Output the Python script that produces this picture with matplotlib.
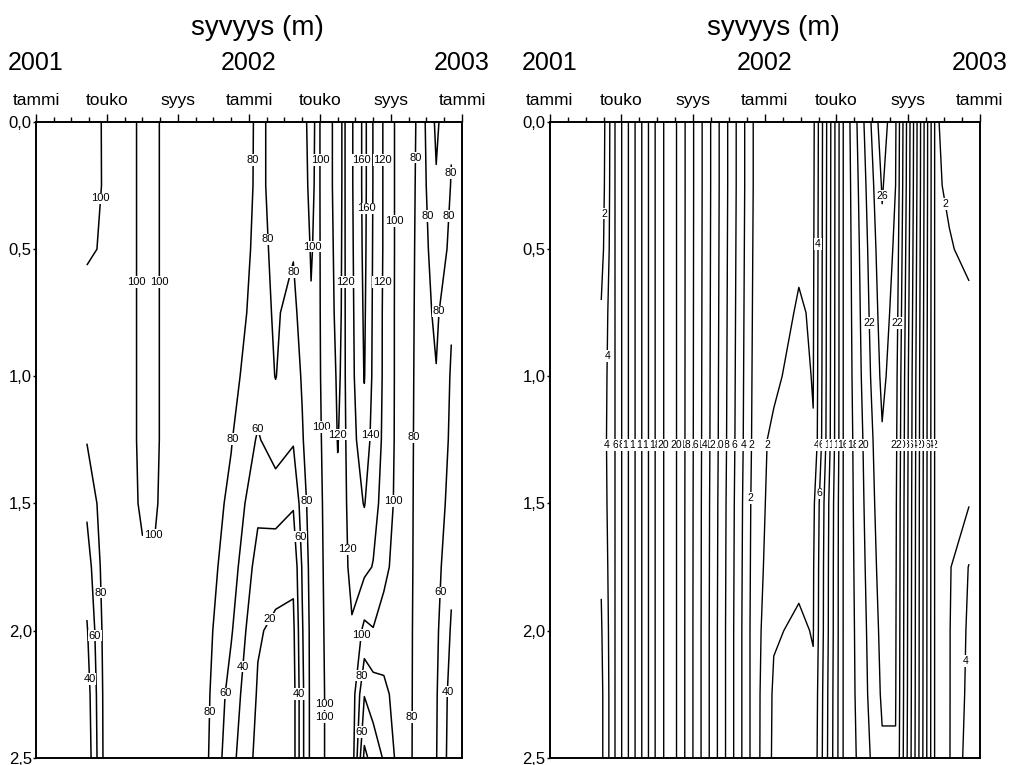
import numpy as np
import matplotlib
matplotlib.use("Agg")
import matplotlib.pyplot as plt
from matplotlib.ticker import FuncFormatter

plt.rcParams['font.family'] = ['Liberation Sans', 'DejaVu Sans']

# sampling depths (m), shared by both panels
depths = [0.0, 0.25, 0.5, 0.75, 1.0, 1.25, 1.5, 1.75, 2.0, 2.25, 2.5]

# left panel: sample times (months from Jan 2001), one depth profile per time
t_left = [2.87, 4.0, 5.5, 6.0, 6.7, 7.2, 9.5, 11.0, 12.5, 13.5, 14.5, 15.0,
          15.5, 15.9, 16.3, 17.0, 17.35, 17.8, 18.5, 19.0, 19.6, 20.4, 21.0,
          21.8, 22.55, 23.4]
prof_left = [
    [105, 104, 101, 97, 92, 81, 64, 50, 38, 30, 26],
    [98, 98.5, 99, 98, 97, 96, 96, 95, 94, 93.5, 93.5],
    [99, 99, 99, 99, 99, 99, 99, 99, 99, 98, 97],
    [102, 102, 102, 102, 102, 102, 101, 99, 98, 97, 96],
    [102, 102, 102, 102, 102, 102, 101, 99, 98, 97, 96],
    [98, 98, 98, 98, 98, 98, 98, 97, 96, 95, 95],
    [95, 95, 94, 94, 93, 92, 91, 90, 88, 87, 86],
    [90, 89, 88, 87, 85, 81, 76, 70, 62, 52, 46],
    [78, 78, 77, 75, 70, 58, 45, 32, 22, 18, 14],
    [82.5, 82.5, 82, 81.5, 80.5, 70, 48, 28, 16, 12, 12],
    [84, 83, 81, 76, 70, 62, 42, 24, 16, 12, 12],
    [96, 95, 92, 86, 82, 78, 70, 62, 58, 55, 55],
    [104, 103, 101, 99, 96, 94, 90, 88, 86, 86, 86],
    [96, 96, 96, 96, 96, 95, 94, 93, 92, 91, 91],
    [112, 112, 111, 110, 108, 106, 104, 103, 102, 101, 101],
    [126, 126, 125, 124, 122, 120.5, 118, 116, 114, 112, 112],
    [117, 117, 117, 117, 117, 116, 115, 114, 112, 112, 112],
    [138, 138, 137, 136, 135, 133, 130, 126, 118, 112, 112],
    [166, 166, 165, 163, 161, 152, 141, 125, 95, 61, 35],
    [139, 139, 138, 137, 136, 133, 128, 119, 99, 70, 48],
    [118, 118, 118, 117, 117, 116, 112, 105, 92, 75, 62],
    [94, 94, 94, 94, 94, 94, 94, 92, 90, 88, 86],
    [85, 85, 85, 85, 85, 85, 85, 85, 85, 85, 85],
    [75, 74, 73, 72, 71, 70, 69, 68, 66, 65, 64],
    [104, 98, 90, 84, 79, 76, 72, 68, 64, 62, 61],
    [82, 79, 76, 62, 58, 56, 52, 44, 38, 32, 30],
]
levels_left = [20, 40, 60, 80, 100, 120, 140, 160]

# right panel
t_right = [2.87, 3.6, 6.0, 6.7, 7.1, 11.4, 12.5, 13.9, 14.7, 16.4, 18.55,
           19.3, 21.5, 22.3, 23.4]
prof_right = [
    [0.6, 0.8, 1.2, 2.2, 2.6, 2.8, 2.6, 2.2, 1.8, 1.5, 1.5],
    [5.8] * 11,
    [18.65] * 11,
    [21.3] * 11,
    [19.9] * 11,
    [1.8, 1.8, 1.7, 1.6, 1.5, 1.4, 1.2, 1.1, 1.0, 1.0, 1.0],
    [1.0, 1.0, 1.0, 1.2, 1.7, 2.3, 2.6, 3.0, 3.8, 4.3, 4.4],
    [1.3, 1.4, 1.7, 2.2, 2.6, 2.9, 3.2, 3.6, 4.3, 4.6, 4.8],
    [1.5, 1.6, 1.7, 1.8, 1.9, 2.1, 3.5, 3.8, 3.9, 4.3, 4.5],
    [16.2] * 11,
    [27.2, 26.2, 25.5, 25.0, 24.5, 23.8, 23.4, 23.0, 22.6, 22.3, 21.7],
    [24.2, 24.0, 23.6, 23.2, 22.8, 22.6, 22.4, 22.3, 22.2, 22.1, 21.9],
    [1.8] * 11,
    [2.5, 2.2, 1.9, 1.7, 1.6, 1.6, 1.7, 1.8, 1.9, 1.9, 1.9],
    [3.0, 2.8, 2.3, 1.7, 1.5, 1.6, 1.9, 4.1, 4.4, 4.6, 5.0],
]
levels_right = list(range(2, 28, 2))

# where the labels sit (month, depth); each goes on the nearest line
label_spots_left = [
    (3.6, 0.3), (6.14, 0.63), (6.99, 0.63), (12.5, 0.15), (16.1, 0.15),
    (18.1, 0.15), (19.3, 0.15), (21.5, 0.14), (22.9, 0.2), (18.5, 0.34),
    (20.2, 0.39), (21.9, 0.37), (23.2, 0.37), (13.6, 0.46), (15.6, 0.49),
    (14.6, 0.59), (17.5, 0.63), (19.5, 0.63), (23.3, 0.75), (12.7, 1.17),
    (11.5, 1.25), (16.0, 1.2), (16.7, 1.23), (18.7, 1.23), (21.5, 1.24),
    (6.6, 1.64), (3.8, 1.85), (3.35, 2.02), (3.0, 2.19), (11.4, 2.14),
    (11.0, 2.25), (9.8, 2.32), (15.5, 1.49), (20.1, 1.49), (15.0, 1.63),
    (18.1, 1.68), (22.9, 1.85), (12.8, 1.94), (18.8, 2.02), (18.7, 2.18),
    (14.9, 2.25), (16.0, 2.29), (17.1, 2.34), (18.7, 2.4), (21.5, 2.34),
    (23.3, 2.24),
]
extra_labels_right = [(3.07, 0.36), (3.3, 0.92), (14.9, 0.48), (18.7, 0.29),
                      (17.85, 0.79), (19.5, 0.79), (22.2, 0.32), (14.96, 1.46),
                      (22.9, 2.12), (11.6, 1.48)]

month_pos = [0, 4, 8, 12, 16, 20, 24]
month_names = ['tammi', 'touko', 'syys', 'tammi', 'touko', 'syys', 'tammi']
year_pos = [0, 12, 24]
year_names = ['2001', '2002', '2003']
depth_ticks = [0.0, 0.5, 1.0, 1.5, 2.0, 2.5]


def comma(v, pos):
    return ('%.1f' % v).replace('.', ',')


def row_points(cs, depth):
    # one point per contour piece where it crosses the given depth
    pts = []
    for segs in cs.allsegs:
        for seg in segs:
            for i in range(len(seg) - 1):
                y0, y1 = seg[i, 1], seg[i + 1, 1]
                if y0 != y1 and (y0 - depth) * (y1 - depth) <= 0:
                    f = (depth - y0) / (y1 - y0)
                    x = seg[i, 0] + f * (seg[i + 1, 0] - seg[i, 0])
                    pts.append((x, depth))
                    break
    return pts


def flat_labels(cs):
    # labels written level, on a white patch that hides the line below
    for txt in cs.labelTexts:
        txt.set_rotation(0)
        txt.set_bbox(dict(facecolor='white', edgecolor='none', pad=0.6))
        txt.set_zorder(5)


def setup(ax):
    ax.set_xlim(0, 24)
    ax.set_ylim(2.5, 0)
    ax.xaxis.tick_top()
    ax.set_xticks(month_pos)
    ax.set_xticklabels(month_names)
    ax.set_xticks(range(25), minor=True)
    ax.tick_params(axis='x', which='major', direction='out', length=6, width=1,
                   labelsize=12.5, pad=4)
    ax.tick_params(axis='x', which='minor', direction='out', length=3.5, width=1)
    ax.set_yticks(depth_ticks)
    ax.yaxis.set_major_formatter(FuncFormatter(comma))
    ax.tick_params(axis='y', direction='out', length=2, width=1, labelsize=12, pad=1)
    for s in ax.spines.values():
        s.set_linewidth(1.4)
    for x, name in zip(year_pos, year_names):
        ax.text(x, 1.093, name, transform=ax.get_xaxis_transform(),
                ha='center', va='center', fontsize=18)
    ax.text(0.52, 1.148, 'syvyys (m)', transform=ax.transAxes,
            ha='center', va='center', fontsize=20)


fig = plt.figure(figsize=(10.22, 7.65), dpi=100)
ax1 = fig.add_axes([0.0352, 0.0095, 0.4168, 0.831])
ax2 = fig.add_axes([0.538, 0.0095, 0.4207, 0.831])
setup(ax1)
setup(ax2)

z_left = np.array(prof_left).T
cs1 = ax1.contour(t_left, depths, z_left, levels=levels_left, colors='k', linewidths=1.1)
ax1.clabel(cs1, manual=label_spots_left, inline=False, fontsize=8, fmt='%d')
flat_labels(cs1)

z_right = np.array(prof_right).T
cs2 = ax2.contour(t_right, depths, z_right, levels=levels_right, colors='k', linewidths=1.0)
ax2.clabel(cs2, manual=row_points(cs2, 1.27) + extra_labels_right, inline=False,
           fontsize=7.5, fmt='%d')
flat_labels(cs2)

fig.savefig('out.png', dpi=100)
